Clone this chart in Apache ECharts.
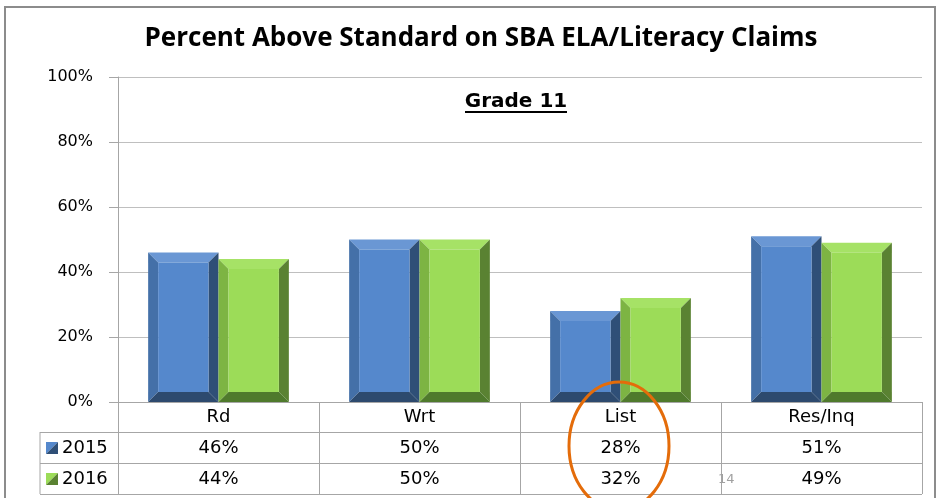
<!DOCTYPE html>
<html>
<head>
<meta charset="utf-8">
<script src="https://cdn.jsdelivr.net/npm/echarts@6/dist/echarts.min.js"></script>
<style>
  html, body { margin: 0; padding: 0; background: #fff; }
  #chart { width: 938px; height: 498px; }
</style>
</head>
<body>
<div id="chart"></div>
<script>
// data
var categories = ['Rd', 'Wrt', 'List', 'Res/Inq'];
var years = ['2015', '2016'];
var vals2015 = [46, 50, 28, 51];
var vals2016 = [44, 50, 32, 49];

// bevel colours: face, top, left, right, bottom
var palette = {
    '2015': ['#5588cc', '#6a97d4', '#4470a8', '#2f4f77', '#2d4a6e'],
    '2016': ['#9cdc58', '#a6e266', '#7db443', '#5a8232', '#4f7a2c']
};

var chart = echarts.init(document.getElementById('chart'));

function bevelBar(seriesIdx, cols) {
    return function (params, api) {
        var idx = api.value(0);
        var val = api.value(1);
        var base = api.coord([idx, 0]);
        var top = api.coord([idx, val]);
        var band = api.size([1, 0])[0];
        var w = band * 0.35;
        var x0 = base[0] - w + seriesIdx * w;
        var x1 = x0 + w;
        var y0 = top[1], y1 = base[1];
        var b = 10;
        function poly(pts, c) {
            return { type: 'polygon', shape: { points: pts }, style: { fill: c } };
        }
        return {
            type: 'group',
            children: [
                poly([[x0, y0], [x1, y0], [x1 - b, y0 + b], [x0 + b, y0 + b]], cols[1]),
                poly([[x0, y0], [x0 + b, y0 + b], [x0 + b, y1 - b], [x0, y1]], cols[2]),
                poly([[x1, y0], [x1, y1], [x1 - b, y1 - b], [x1 - b, y0 + b]], cols[3]),
                poly([[x0, y1], [x0 + b, y1 - b], [x1 - b, y1 - b], [x1, y1]], cols[4]),
                { type: 'rect', shape: { x: x0 + b, y: y0 + b, width: w - 2 * b, height: y1 - y0 - 2 * b }, style: { fill: cols[0] } }
            ]
        };
    };
}

var gray = '#a6a6a6';
var tableFont = { fontFamily: 'DejaVu Sans', fontSize: 18, color: '#000' };

var option = {
    animation: false,
    title: {
        text: 'Percent Above Standard on SBA ELA/Literacy Claims',
        left: 476, top: 21, textAlign: 'center',
        textStyle: { fontFamily: 'Open Sans', fontWeight: 'bold', fontSize: 26, color: '#000' }
    },
    grid: { left: 118, right: 16, top: 77, bottom: 96 },
    xAxis: [
        {
            type: 'category', data: categories, position: 'bottom',
            axisLine: { lineStyle: { color: gray } },
            axisTick: { show: false },
            axisLabel: Object.assign({ margin: 6 }, tableFont)
        },
        {
            type: 'category', data: vals2015.map(function (v) { return v + '%'; }),
            position: 'bottom', offset: 31,
            axisLine: { show: false }, axisTick: { show: false },
            axisLabel: Object.assign({ margin: 6 }, tableFont)
        },
        {
            type: 'category', data: vals2016.map(function (v) { return v + '%'; }),
            position: 'bottom', offset: 62,
            axisLine: { show: false }, axisTick: { show: false },
            axisLabel: Object.assign({ margin: 6 }, tableFont)
        }
    ],
    yAxis: {
        type: 'value', min: 0, max: 100, interval: 20,
        axisLine: { show: true, lineStyle: { color: gray } },
        axisTick: { show: true, length: 9, lineStyle: { color: gray } },
        splitLine: { lineStyle: { color: '#bfbfbf' } },
        axisLabel: { formatter: '{value}%', margin: 25, fontFamily: 'DejaVu Sans', fontSize: 16, color: '#000' }
    },
    series: [
        { name: years[0], type: 'custom', renderItem: bevelBar(0, palette['2015']), data: vals2015.map(function (v, i) { return [i, v]; }) },
        { name: years[1], type: 'custom', renderItem: bevelBar(1, palette['2016']), data: vals2016.map(function (v, i) { return [i, v]; }) }
    ]
};
chart.setOption(option);

// table frame, legend keys, subtitle and slide decorations
var rows = [432, 463, 494];
var gfx = [
    { type: 'rect', shape: { x: 5, y: 7, width: 930, height: 500 }, style: { fill: null, stroke: '#8c8c8c', lineWidth: 2 } },
    { type: 'text', x: 516, y: 102, style: { text: 'Grade 11', fontFamily: 'DejaVu Sans', fontWeight: 'bold', fontSize: 20, fill: '#000', align: 'center', verticalAlign: 'middle' } },
    { type: 'line', shape: { x1: 465, y1: 112, x2: 567, y2: 112 }, style: { stroke: '#000', lineWidth: 2 } },
    { type: 'line', shape: { x1: 40, y1: 432, x2: 40, y2: 494 }, style: { stroke: gray } }
];
// column separators at the category band edges
var band = chart.convertToPixel({ xAxisIndex: 0 }, 1) - chart.convertToPixel({ xAxisIndex: 0 }, 0);
for (var i = 0; i <= categories.length; i++) {
    var x = Math.round(chart.convertToPixel({ xAxisIndex: 0 }, 0) - band / 2 + i * band) + 0.5;
    gfx.push({ type: 'line', shape: { x1: x, y1: 402, x2: x, y2: 494 }, style: { stroke: gray } });
}
rows.forEach(function (y) {
    gfx.push({ type: 'line', shape: { x1: 40, y1: y + 0.5, x2: 922, y2: y + 0.5 }, style: { stroke: gray } });
});
years.forEach(function (yr, i) {
    var cy = 448 + i * 31;
    var c = palette[yr];
    gfx.push({ type: 'polygon', shape: { points: [[46, cy - 6], [58, cy - 6], [46, cy + 6]] }, style: { fill: c[0] } });
    gfx.push({ type: 'polygon', shape: { points: [[58, cy - 6], [58, cy + 6], [46, cy + 6]] }, style: { fill: c[3] } });
    gfx.push({ type: 'text', x: 62, y: cy, style: { text: yr, fontFamily: 'DejaVu Sans', fontSize: 18, fill: '#000', verticalAlign: 'middle' } });
});
gfx.push({ type: 'ellipse', z: 100, shape: { cx: 619, cy: 446, rx: 50, ry: 64 }, style: { fill: null, stroke: '#e46c0a', lineWidth: 3 } });
gfx.push({ type: 'text', x: 718, y: 480, style: { text: '14', fontFamily: 'DejaVu Sans', fontSize: 13, fill: '#a0a0a0', verticalAlign: 'middle' } });
chart.setOption({ graphic: gfx });
</script>
</body>
</html>
